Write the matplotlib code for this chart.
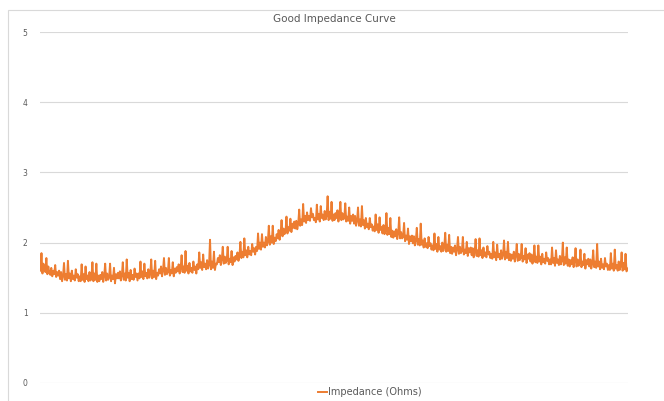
import numpy as np
import matplotlib
matplotlib.use("Agg")
import matplotlib.pyplot as plt
from matplotlib.patches import Rectangle

# --- Impedance readings (Ohms), 20 samples per row, in sweep order ---
impedance = [
    1.60, 1.85, 1.56, 1.70, 1.62, 1.58, 1.78, 1.55, 1.66, 1.57, 1.54, 1.64, 1.52, 1.60, 1.55, 1.68, 1.51, 1.58, 1.53, 1.60,
    1.48, 1.58, 1.45, 1.52, 1.71, 1.47, 1.55, 1.46, 1.74, 1.49, 1.56, 1.45, 1.60, 1.48, 1.53, 1.46, 1.62, 1.50, 1.55, 1.45,
    1.52, 1.45, 1.69, 1.47, 1.55, 1.44, 1.66, 1.48, 1.53, 1.45, 1.58, 1.46, 1.51, 1.72, 1.45, 1.56, 1.47, 1.70, 1.44, 1.53,
    1.45, 1.54, 1.48, 1.58, 1.44, 1.52, 1.70, 1.46, 1.56, 1.47, 1.50, 1.70, 1.45, 1.53, 1.48, 1.64, 1.42, 1.55, 1.49, 1.57,
    1.49, 1.59, 1.46, 1.53, 1.72, 1.47, 1.56, 1.46, 1.76, 1.50, 1.57, 1.45, 1.61, 1.48, 1.54, 1.47, 1.63, 1.51, 1.56, 1.46,
    1.56, 1.49, 1.73, 1.51, 1.59, 1.48, 1.70, 1.52, 1.57, 1.49, 1.62, 1.50, 1.55, 1.76, 1.49, 1.60, 1.51, 1.74, 1.48, 1.57,
    1.53, 1.62, 1.56, 1.66, 1.52, 1.60, 1.78, 1.54, 1.64, 1.55, 1.58, 1.78, 1.53, 1.61, 1.56, 1.72, 1.52, 1.63, 1.57, 1.65,
    1.59, 1.69, 1.56, 1.63, 1.82, 1.58, 1.66, 1.57, 1.88, 1.60, 1.67, 1.56, 1.71, 1.59, 1.64, 1.57, 1.73, 1.61, 1.66, 1.56,
    1.69, 1.62, 1.86, 1.64, 1.72, 1.61, 1.83, 1.65, 1.70, 1.62, 1.75, 1.63, 1.68, 2.04, 1.62, 1.73, 1.64, 1.87, 1.61, 1.70,
    1.69, 1.78, 1.72, 1.82, 1.68, 1.76, 1.94, 1.70, 1.80, 1.71, 1.74, 1.94, 1.69, 1.77, 1.72, 1.88, 1.68, 1.79, 1.73, 1.81,
    1.76, 1.86, 1.74, 1.81, 2.01, 1.78, 1.87, 1.79, 2.06, 1.82, 1.89, 1.79, 1.94, 1.83, 1.88, 1.82, 1.98, 1.87, 1.92, 1.83,
    1.94, 1.88, 2.13, 1.91, 2.00, 1.90, 2.12, 1.94, 2.00, 1.93, 2.08, 1.96, 2.01, 2.24, 1.97, 2.09, 2.00, 2.24, 1.98, 2.07,
    2.02, 2.12, 2.06, 2.18, 2.04, 2.13, 2.32, 2.09, 2.20, 2.12, 2.15, 2.37, 2.13, 2.22, 2.17, 2.34, 2.15, 2.27, 2.21, 2.30,
    2.20, 2.31, 2.19, 2.27, 2.47, 2.24, 2.33, 2.25, 2.55, 2.30, 2.38, 2.28, 2.43, 2.32, 2.38, 2.31, 2.49, 2.36, 2.41, 2.32,
    2.35, 2.29, 2.54, 2.33, 2.41, 2.30, 2.52, 2.35, 2.40, 2.32, 2.45, 2.33, 2.38, 2.66, 2.32, 2.44, 2.34, 2.58, 2.31, 2.40,
    2.32, 2.42, 2.35, 2.46, 2.30, 2.39, 2.58, 2.32, 2.42, 2.33, 2.35, 2.56, 2.30, 2.37, 2.31, 2.50, 2.27, 2.38, 2.31, 2.40,
    2.27, 2.38, 2.24, 2.31, 2.50, 2.24, 2.33, 2.23, 2.52, 2.25, 2.32, 2.20, 2.35, 2.22, 2.27, 2.19, 2.35, 2.22, 2.26, 2.17,
    2.23, 2.16, 2.40, 2.18, 2.26, 2.14, 2.36, 2.18, 2.22, 2.13, 2.25, 2.12, 2.17, 2.42, 2.11, 2.21, 2.12, 2.35, 2.08, 2.17,
    2.07, 2.16, 2.09, 2.19, 2.05, 2.13, 2.36, 2.06, 2.15, 2.06, 2.08, 2.28, 2.02, 2.10, 2.04, 2.20, 1.98, 2.09, 2.02, 2.10,
    1.99, 2.09, 1.96, 2.03, 2.21, 1.97, 2.05, 1.96, 2.27, 1.97, 2.03, 1.93, 2.06, 1.94, 1.99, 1.92, 2.08, 1.95, 1.99, 1.90,
    1.96, 1.89, 2.13, 1.91, 1.98, 1.87, 2.08, 1.90, 1.95, 1.87, 2.00, 1.88, 1.93, 2.14, 1.87, 1.97, 1.88, 2.11, 1.85, 1.94,
    1.84, 1.93, 1.87, 1.96, 1.82, 1.90, 2.08, 1.84, 1.94, 1.85, 1.88, 2.08, 1.83, 1.90, 1.85, 2.01, 1.81, 1.92, 1.86, 1.93,
    1.82, 1.92, 1.79, 1.86, 2.05, 1.81, 1.89, 1.80, 2.06, 1.82, 1.89, 1.78, 1.93, 1.81, 1.86, 1.79, 1.95, 1.83, 1.87, 1.78,
    1.84, 1.77, 2.01, 1.79, 1.86, 1.75, 1.97, 1.79, 1.84, 1.76, 1.89, 1.77, 1.82, 2.03, 1.76, 1.87, 1.78, 2.01, 1.75, 1.84,
    1.74, 1.83, 1.77, 1.87, 1.73, 1.81, 1.98, 1.74, 1.84, 1.75, 1.78, 1.98, 1.73, 1.81, 1.76, 1.92, 1.71, 1.83, 1.77, 1.85,
    1.73, 1.83, 1.70, 1.77, 1.96, 1.72, 1.80, 1.71, 1.96, 1.73, 1.80, 1.69, 1.84, 1.72, 1.77, 1.70, 1.86, 1.74, 1.78, 1.69,
    1.76, 1.69, 1.93, 1.71, 1.78, 1.67, 1.89, 1.71, 1.76, 1.68, 1.81, 1.69, 1.74, 2.00, 1.68, 1.79, 1.70, 1.93, 1.67, 1.76,
    1.66, 1.75, 1.69, 1.79, 1.65, 1.73, 1.92, 1.66, 1.76, 1.67, 1.70, 1.90, 1.65, 1.73, 1.68, 1.84, 1.63, 1.75, 1.69, 1.77,
    1.66, 1.76, 1.63, 1.70, 1.89, 1.65, 1.73, 1.64, 1.98, 1.66, 1.73, 1.62, 1.77, 1.64, 1.69, 1.62, 1.78, 1.66, 1.70, 1.61,
    1.68, 1.61, 1.85, 1.63, 1.70, 1.60, 1.90, 1.63, 1.68, 1.60, 1.73, 1.61, 1.66, 1.86, 1.60, 1.71, 1.62, 1.84, 1.59, 1.63,
]
y_ticks = [0, 1, 2, 3, 4, 5]

GRID = "#D9D9D9"
TEXT = "#595959"
ORANGE = "#ED7D31"

fig = plt.figure(figsize=(6.64, 4.01), dpi=100)
W, H = 664, 401

# chart frame (runs off the right/bottom edge)
fig.patches.append(Rectangle((8 / W, -0.05), 1.0, 1 - 10 / H + 0.05,
                             transform=fig.transFigure, fill=False,
                             edgecolor=GRID, lw=0.8))

ax = fig.add_axes([40 / W, 1 - 383 / H, 588 / W, 351 / H])
idx = np.arange(len(impedance))
ax.plot(idx, impedance, color=ORANGE, lw=1.4, label="Impedance (Ohms)")

ax.set_xlim(-0.5, len(impedance) - 0.5)
ax.set_ylim(0, 5)
ax.set_yticks(y_ticks)
ax.set_xticks([])
ax.grid(axis="y", color=GRID, lw=0.8)
ax.set_axisbelow(True)
for s in ax.spines.values():
    s.set_visible(False)
ax.tick_params(axis="y", length=0, pad=9, labelsize=5.5, labelcolor=TEXT)

fig.text(334 / W, 1 - 19 / H, "Good Impedance Curve", ha="center", va="center",
         fontsize=7.5, color=TEXT)

fig.legend(loc="center", bbox_to_anchor=(370 / W, 1 - 392 / H), frameon=False,
           fontsize=7, handlelength=0.9, handletextpad=0.1, labelcolor=TEXT)

fig.savefig("out.png", dpi=100)
